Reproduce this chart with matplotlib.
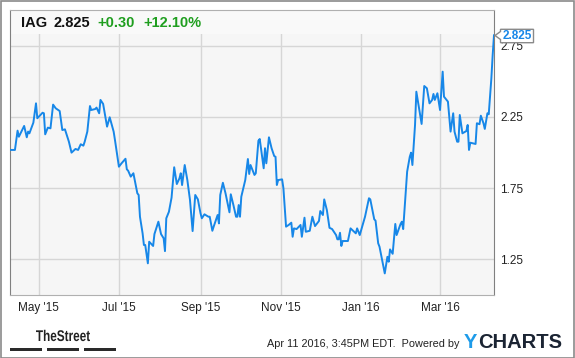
import matplotlib
matplotlib.use("Agg")
import matplotlib.pyplot as plt
import matplotlib.dates as mdates
from matplotlib.patches import Rectangle, Polygon, PathPatch
from matplotlib.textpath import TextPath
from matplotlib.font_manager import FontProperties
from matplotlib.transforms import Affine2D
import pandas as pd

# IAG daily close (day = days since 2015-04-09)
day = [1, 4, 6, 7, 11, 13, 14, 15, 18, 20, 21, 25, 26, 27, 29, 31, 33, 35, 38, 40,
       42, 45, 47, 50, 52, 54, 56, 57, 59, 61, 62, 65, 66, 68, 69, 71, 74, 76, 79, 80,
       83, 85, 88, 89, 90, 92, 94, 97, 98, 99, 101, 102, 103, 105, 106, 109, 110, 113, 115, 117,
       118, 119, 121, 123, 125, 127, 129, 130, 131, 133, 135, 137, 139, 141, 143, 145, 146, 148, 151, 152,
       154, 155, 158, 159, 160, 162, 164, 167, 168, 170, 172, 173, 174, 175, 176, 179, 181, 182, 183, 186,
       187, 189, 190, 193, 194, 195, 197, 199, 201, 202, 203, 204, 207, 208, 210, 212, 214, 215, 216, 218,
       221, 222, 224, 225, 228, 230, 232, 235, 236, 238, 239, 241, 243, 245, 248, 249, 250, 251, 252, 253,
       257, 259, 261, 263, 264, 266, 270, 273, 274, 277, 278, 280, 281, 285, 287, 288, 289, 291, 293, 294,
       297, 298, 299, 302, 304, 305, 306, 308, 309, 313, 315, 317, 319, 321, 322, 323, 325, 327, 329, 330,
       333, 335, 337, 338, 340, 341, 342, 344, 347, 348, 349, 350, 354, 355, 357, 358, 360, 361, 363, 364,
       366, 367, 368]
price = [2.018, 2.018, 2.154, 2.111, 2.187, 2.107, 2.147, 2.135, 2.21, 2.346, 2.241, 2.28, 2.276, 2.128, 2.175, 2.17, 2.337, 2.311, 2.292, 2.158,
         2.163, 2.076, 1.999, 2.025, 2.018, 2.058, 2.048, 2.076, 2.147, 2.327, 2.299, 2.306, 2.316, 2.276, 2.37, 2.342, 2.182, 2.248, 2.147, 2.088,
         1.90, 1.924, 1.956, 1.882, 1.872, 1.83, 1.854, 1.713, 1.701, 1.548, 1.431, 1.349, 1.349, 1.22, 1.372, 1.342, 1.426, 1.513, 1.426, 1.396,
         1.306, 1.537, 1.583, 1.682, 1.896, 1.778, 1.818, 1.854, 1.771, 1.912, 1.806, 1.666, 1.447, 1.701, 1.67, 1.572, 1.537, 1.565, 1.548, 1.548,
         1.449, 1.478, 1.56, 1.501, 1.701, 1.787, 1.713, 1.579, 1.706, 1.63, 1.548, 1.548, 1.63, 1.548, 1.689, 1.806, 1.954, 1.849, 1.912, 1.842,
         1.854, 2.083, 2.095, 1.889, 2.03, 1.924, 2.107, 2.03, 1.975, 1.97, 1.771, 1.806, 1.811, 1.748, 1.478, 1.49, 1.506, 1.407, 1.466, 1.461,
         1.49, 1.407, 1.541, 1.442, 1.449, 1.548, 1.482, 1.518, 1.588, 1.56, 1.67, 1.595, 1.47, 1.461, 1.419, 1.389, 1.389, 1.435, 1.342, 1.377,
         1.377, 1.466, 1.449, 1.431, 1.466, 1.419, 1.548, 1.678, 1.67, 1.53, 1.52, 1.361, 1.337, 1.149, 1.266, 1.231, 1.318, 1.287, 1.497, 1.419,
         1.497, 1.513, 1.461, 1.865, 1.97, 1.999, 1.912, 2.194, 2.428, 2.201, 2.468, 2.452, 2.346, 2.37, 2.412, 2.37, 2.417, 2.299, 2.569, 2.393,
         2.358, 2.147, 2.276, 2.147, 2.076, 2.076, 2.264, 2.135, 2.151, 2.194, 2.018, 2.069, 2.06, 2.206, 2.199, 2.259, 2.206, 2.166, 2.276, 2.269,
         2.523, 2.687, 2.825]

ticker = "IAG"
last = "2.825"
change = "+0.30"
pct = "+12.10%"
yticks = [1.25, 1.75, 2.25, 2.75]

dates = pd.Timestamp("2015-04-09") + pd.to_timedelta(day, unit="D")

W, H = 575, 358
plt.rcParams["font.family"] = ["Liberation Sans", "DejaVu Sans"]
fig = plt.figure(figsize=(W / 100, H / 100), dpi=100)
fig.patch.set_facecolor("white")


def fx(x):
    return x / W


def fy(y):
    return 1 - y / H


ax = fig.add_axes([fx(10), fy(295), fx(494) - fx(10), fy(10) - fy(295)])
ax.set_facecolor("#f6f6f6")
blue = "#1787e8"
ax.plot(dates, price, color=blue, lw=1.4, zorder=3, solid_joinstyle="round")

ax.set_xlim(pd.Timestamp("2015-04-09 06:00"), pd.Timestamp("2016-04-11"))
ax.set_ylim(0.997, 3.003)
ax.xaxis.set_major_locator(mdates.MonthLocator(bymonth=[1, 3, 5, 7, 9, 11]))
ax.xaxis.set_major_formatter(mdates.DateFormatter("%b '%y"))
ax.set_yticks(yticks)
ax.set_yticklabels(["%.2f" % v for v in yticks])
ax.yaxis.tick_right()
ax.tick_params(length=0, labelsize=8.5, colors="#222222")
ax.tick_params(axis="y", pad=4.5)
ax.tick_params(axis="x", pad=5)
ax.grid(True, color="#d6d6d6", lw=1)
ax.set_axisbelow(True)
for s in ax.spines.values():
    s.set_color("#b0b0b0")
ax.spines["left"].set_color("#808080")
ax.spines["right"].set_color("#808080")

# header band over the top of the plot
ax.add_patch(Rectangle((0, 1 - 24 / 285), 1, 24 / 285, transform=ax.transAxes,
                       facecolor="#f9f9f9", edgecolor="none", zorder=2))

ty = fy(23)
fig.text(fx(21.5), ty, ticker, fontsize=10.5, fontweight="bold", va="center", color="#111111")
fig.text(fx(54), ty, last, fontsize=10.5, fontweight="bold", va="center", color="#111111")
fig.text(fx(97.5), ty, change, fontsize=10.5, fontweight="bold", va="center", color="#1f9e1f")
fig.text(fx(143), ty, pct, fontsize=10.5, fontweight="bold", va="center", color="#1f9e1f")

# last price tag
tag = [(495, 35.5), (500.5, 31.5), (500.5, 29.3), (533.5, 29.3), (533.5, 42.7), (500.5, 42.7), (500.5, 39.5)]
fig.patches.append(Polygon([(fx(a), fy(b)) for a, b in tag], closed=True, transform=fig.transFigure,
                           facecolor="white", edgecolor="#8a8a8a", lw=1, zorder=5))
fig.text(fx(517), fy(36), last, fontsize=8.5, fontweight="bold", color=blue, ha="center", va="center", zorder=6)

# footer: condensed "TheStreet" logo text (squeezed text path)
tp = TextPath((0, 0), "TheStreet", size=15.5, prop=FontProperties(family="Liberation Sans", weight="bold"))
ext = tp.get_extents()
sx = 54 / ext.width
fig.patches.append(PathPatch(tp, transform=Affine2D().translate(-ext.x0, 0).scale(sx, 1.0)
                             .translate(36 * fig.dpi / 100, (H - 341) * fig.dpi / 100),
                             facecolor="#222222", edgecolor="none"))
for x0, x1 in [(10, 42), (47, 79), (84, 116)]:
    fig.patches.append(Rectangle((fx(x0), fy(350.5)), fx(x1) - fx(x0), 2.5 / H, transform=fig.transFigure,
                                 facecolor="#2a2a2a", edgecolor="none"))
fig.text(fx(459.5), fy(344), "Apr 11 2016, 3:45PM EDT.  Powered by", fontsize=7.8, ha="right", va="center",
         color="#222222")
fig.text(fx(464), fy(342), "Y", fontsize=14.5, fontweight="bold", ha="left", va="center", color="#1e9be9")
fig.text(fx(478), fy(342), "CHARTS", fontsize=14.5, fontweight="bold", ha="left", va="center", color="#1b2433")

# outer border
fig.patches.append(Rectangle((0.5 / W, 0.5 / H), 1 - 1.5 / W, 1 - 1.5 / H, transform=fig.transFigure,
                             facecolor="none", edgecolor="#8a8a8a", lw=1.2))

fig.savefig("out.png", dpi=100)
